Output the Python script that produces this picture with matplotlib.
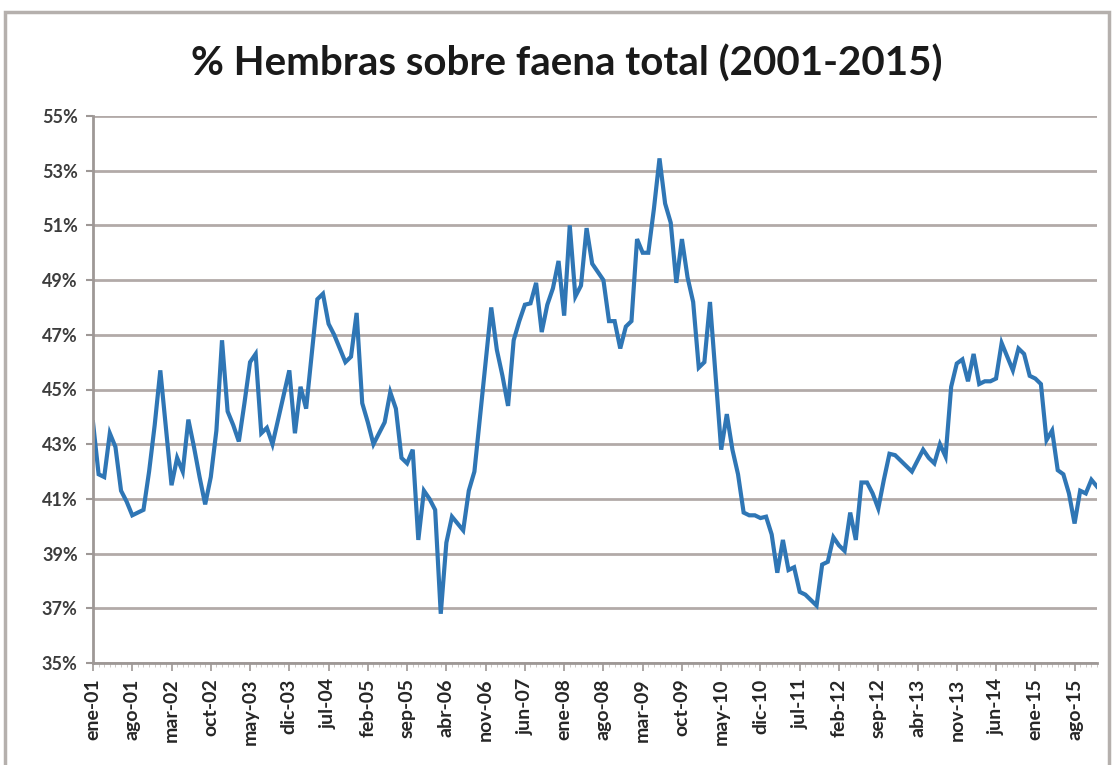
import matplotlib
matplotlib.use("Agg")
import matplotlib.pyplot as plt
from matplotlib.patches import Rectangle
from matplotlib.ticker import FixedLocator, MultipleLocator
import numpy as np

# % de hembras sobre faena total, mensual ene-2001 .. dic-2015
y2001 = [43.8, 41.9, 41.8, 43.4, 42.9, 41.3, 40.9, 40.4, 40.5, 40.6, 42.0, 43.7]
y2002 = [45.7, 43.6, 41.5, 42.5, 42.0, 43.9, 42.9, 41.8, 40.8, 41.8, 43.5, 46.8]
y2003 = [44.2, 43.7, 43.1, 44.5, 46.0, 46.3, 43.4, 43.6, 43.0, 43.9, 44.8, 45.7]
y2004 = [43.4, 45.1, 44.3, 46.3, 48.3, 48.5, 47.4, 47.0, 46.5, 46.0, 46.2, 47.8]
y2005 = [44.5, 43.8, 43.0, 43.4, 43.8, 44.9, 44.3, 42.5, 42.3, 42.8, 39.5, 41.3]
y2006 = [41.0, 40.6, 36.8, 39.4, 40.35, 40.1, 39.85, 41.3, 42.0, 44.0, 46.0, 48.0]
y2007 = [46.45, 45.5, 44.4, 46.8, 47.5, 48.1, 48.15, 48.9, 47.1, 48.1, 48.7, 49.7]
y2008 = [47.7, 51.0, 48.4, 48.8, 50.9, 49.6, 49.3, 49.0, 47.5, 47.5, 46.5, 47.3]
y2009 = [47.5, 50.5, 50.0, 50.0, 51.6, 53.45, 51.8, 51.1, 48.9, 50.5, 49.1, 48.2]
y2010 = [45.8, 46.0, 48.2, 45.5, 42.8, 44.1, 42.8, 41.9, 40.5, 40.4, 40.4, 40.3]
y2011 = [40.35, 39.7, 38.3, 39.5, 38.4, 38.5, 37.6, 37.5, 37.3, 37.1, 38.6, 38.7]
y2012 = [39.6, 39.3, 39.1, 40.5, 39.5, 41.6, 41.6, 41.2, 40.65, 41.7, 42.65, 42.6]
y2013 = [42.4, 42.2, 42.0, 42.4, 42.8, 42.5, 42.3, 43.0, 42.55, 45.1, 45.95, 46.1]
y2014 = [45.3, 46.3, 45.2, 45.3, 45.3, 45.4, 46.7, 46.2, 45.7, 46.5, 46.3, 45.5]
y2015 = [45.4, 45.2, 43.15, 43.5, 42.05, 41.9, 41.2, 40.1, 41.3, 41.2, 41.7, 41.45]

values = (y2001 + y2002 + y2003 + y2004 + y2005 + y2006 + y2007 + y2008
          + y2009 + y2010 + y2011 + y2012 + y2013 + y2014 + y2015)

tick_labels = ["ene-01", "ago-01", "mar-02", "oct-02", "may-03", "dic-03",
               "jul-04", "feb-05", "sep-05", "abr-06", "nov-06", "jun-07",
               "ene-08", "ago-08", "mar-09", "oct-09", "may-10", "dic-10",
               "jul-11", "feb-12", "sep-12", "abr-13", "nov-13", "jun-14",
               "ene-15", "ago-15"]
label_step = 7

y_ticks = [35, 37, 39, 41, 43, 45, 47, 49, 51, 53, 55]

W, H = 1113, 765
fig = plt.figure(figsize=(W / 100, H / 100), dpi=100)
fig.patch.set_facecolor("white")

# chart border
fig.patches.append(Rectangle((5 / W, -0.05), 1104 / W, 1.05 - 12 / H,
                             transform=fig.transFigure, fill=False,
                             edgecolor="#b5b0ad", linewidth=2.5))

ax = fig.add_axes([93 / W, 1 - 663 / H, (1097 - 93) / W, (663 - 116) / H])

x = np.arange(len(values))
ax.plot(x, values, color="#2f76b5", linewidth=3.0, solid_joinstyle="miter")

ax.set_xlim(0, len(values) - 1)
ax.set_ylim(35, 55)

ax.set_yticks(y_ticks)
ax.set_yticklabels([f"{v}%" for v in y_ticks])
ax.yaxis.grid(True, color="#b2aaa8", linewidth=2)
ax.set_axisbelow(True)

ax.xaxis.set_major_locator(FixedLocator(x[::label_step]))
ax.set_xticklabels(tick_labels, rotation=90)
ax.xaxis.set_minor_locator(MultipleLocator(1))

for side in ["top", "right"]:
    ax.spines[side].set_visible(False)
for side in ["left", "bottom"]:
    ax.spines[side].set_color("#9e9896")
    ax.spines[side].set_linewidth(2)

ax.tick_params(axis="y", length=5, width=1.5, color="#9e9896", pad=6,
               labelsize=13, labelcolor="#3c3c3c")
ax.tick_params(axis="x", which="major", length=6, width=1.2, color="#9e9896",
               pad=5, labelsize=14, labelcolor="#262626")
ax.tick_params(axis="x", which="minor", length=3, width=0.6, color="#c4bfbd")
for lab in ax.get_xticklabels() + ax.get_yticklabels():
    lab.set_fontfamily("Lato")
    lab.set_fontweight("bold")

fig.text(567 / W, 1 - 64 / H, "% Hembras sobre faena total (2001-2015)",
         ha="center", va="center", fontsize=29, fontweight="bold",
         family="Lato", color="#1a1a1a")

fig.savefig("out.png", dpi=100, facecolor="white")
